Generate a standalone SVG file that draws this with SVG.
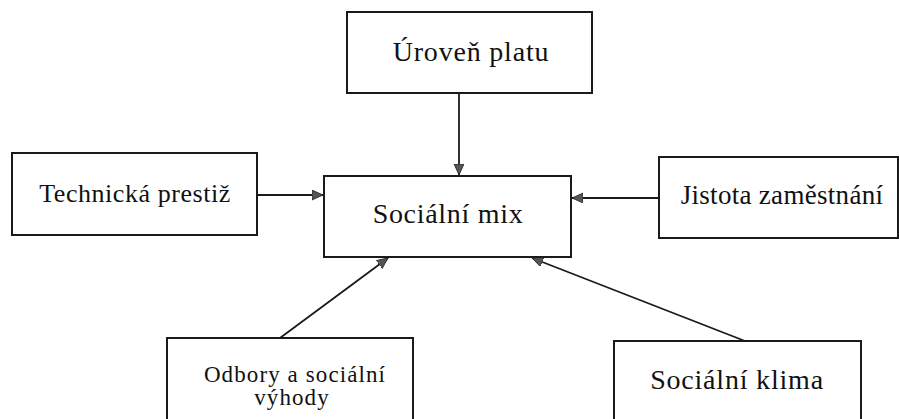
<svg xmlns="http://www.w3.org/2000/svg" width="899" height="419" viewBox="0 0 899 419">
<style>
.box{fill:#fff;stroke:#1a1a1a;stroke-width:2}
.t{font-family:"Liberation Serif","DejaVu Serif","Times New Roman",serif;fill:#111;text-anchor:middle}
.c{stroke:#1a1a1a;stroke-width:1.8;fill:none;marker-end:url(#ah)}
</style>
<defs>
<marker id="ah" markerWidth="12" markerHeight="12" refX="11" refY="5" orient="auto" markerUnits="userSpaceOnUse">
<path d="M0,0 L11,5 L0,10 Z" fill="#555" stroke="#222" stroke-width="0.8"/>
</marker>
</defs>
<rect width="899" height="419" fill="#fff"/>
<g id="connectors">
<line class="c" x1="459" y1="93" x2="459" y2="175"/>
<line class="c" x1="257" y1="195" x2="323" y2="195"/>
<line class="c" x1="659" y1="198" x2="572" y2="198"/>
<line class="c" x1="280" y1="338" x2="388" y2="258"/>
<line class="c" x1="745" y1="341" x2="532" y2="258"/>
</g>
<g id="uroven">
<rect class="box" x="347" y="12" width="245" height="81"/>
<text class="t" x="471" y="61" font-size="28" letter-spacing="0.8">Úroveň platu</text>
</g>
<g id="technicka">
<rect class="box" x="12" y="153" width="245" height="82"/>
<text class="t" x="135" y="202" font-size="26" letter-spacing="0.55">Technická prestiž</text>
</g>
<g id="socialni-mix">
<rect class="box" x="324" y="176" width="247" height="81"/>
<text class="t" x="448" y="223" font-size="28" letter-spacing="0.7">Sociální mix</text>
</g>
<g id="jistota">
<rect class="box" x="659" y="157" width="239" height="81"/>
<text class="t" x="782" y="204" font-size="27" letter-spacing="0.3">Jistota zaměstnání</text>
</g>
<g id="odbory">
<rect class="box" x="167" y="338" width="246" height="90"/>
<text class="t" x="295" y="382" font-size="23" letter-spacing="1.1">Odbory a sociální</text>
<text class="t" x="292" y="405" font-size="23" letter-spacing="1.1">výhody</text>
</g>
<g id="klima">
<rect class="box" x="614" y="341" width="247" height="90"/>
<text class="t" x="737" y="389" font-size="28" letter-spacing="0.8">Sociální klima</text>
</g>
</svg>
